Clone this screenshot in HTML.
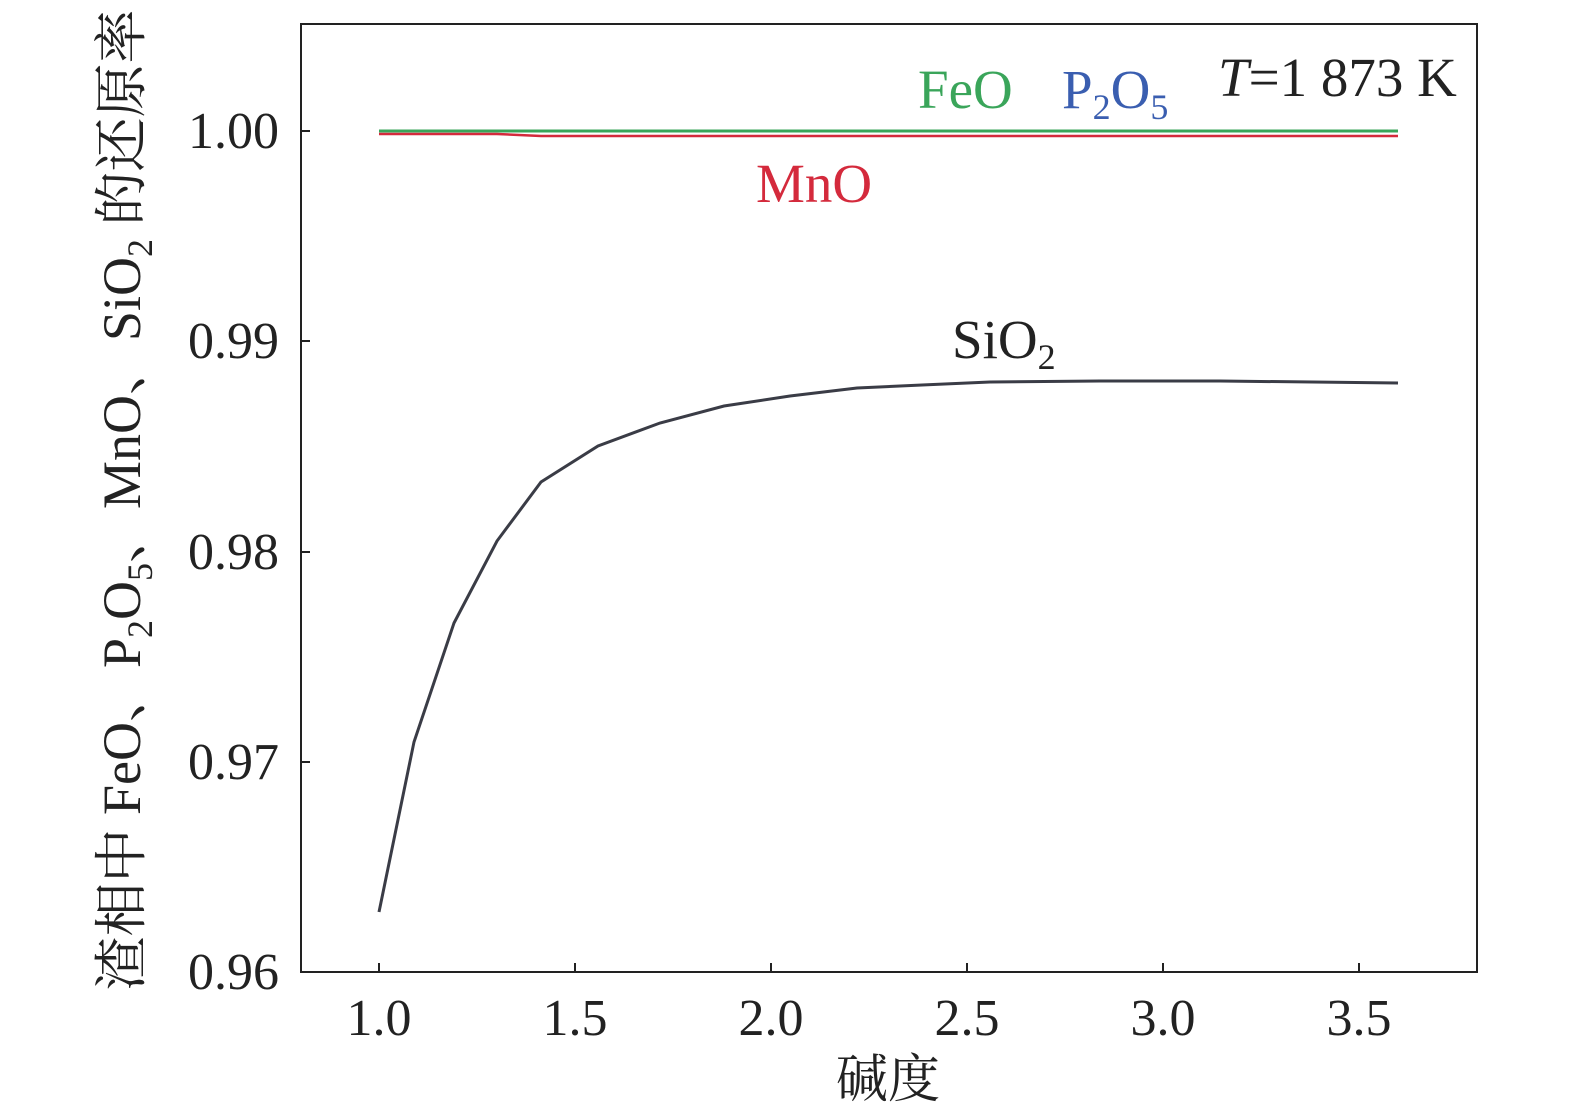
<!DOCTYPE html>
<html><head><meta charset="utf-8"><style>
html,body{margin:0;padding:0;background:#fff;}
svg{display:block;}
text{font-family:"Liberation Serif","Noto Serif CJK SC",serif;}
</style></head><body>
<svg width="1575" height="1117" viewBox="0 0 1575 1117" xmlns="http://www.w3.org/2000/svg">
<rect x="301" y="24" width="1176" height="948" fill="none" stroke="#222" stroke-width="2"/>
<g stroke="#222" stroke-width="2">
<line x1="301" y1="131" x2="310" y2="131"/>
<line x1="301" y1="341" x2="310" y2="341"/>
<line x1="301" y1="552" x2="310" y2="552"/>
<line x1="301" y1="762" x2="310" y2="762"/>
<line x1="379" y1="972" x2="379" y2="963"/>
<line x1="575" y1="972" x2="575" y2="963"/>
<line x1="771" y1="972" x2="771" y2="963"/>
<line x1="967" y1="972" x2="967" y2="963"/>
<line x1="1163" y1="972" x2="1163" y2="963"/>
<line x1="1359" y1="972" x2="1359" y2="963"/>
</g>
<g font-size="52" fill="#222" text-anchor="end">
<text x="279" y="148">1.00</text>
<text x="279" y="358">0.99</text>
<text x="279" y="569">0.98</text>
<text x="279" y="779">0.97</text>
<text x="279" y="989">0.96</text>
</g>
<g font-size="52" fill="#222" text-anchor="middle">
<text x="379" y="1035">1.0</text>
<text x="575" y="1035">1.5</text>
<text x="771" y="1035">2.0</text>
<text x="967" y="1035">2.5</text>
<text x="1163" y="1035">3.0</text>
<text x="1359" y="1035">3.5</text>
<text x="888" y="1097">碱度</text>
</g>
<text transform="translate(140,500) rotate(-90)" font-size="54" fill="#222" text-anchor="middle">渣相中 FeO、P<tspan font-size="36" dy="12">2</tspan><tspan dy="-12">O</tspan><tspan font-size="36" dy="12">5</tspan><tspan dy="-12">、MnO、SiO</tspan><tspan font-size="36" dy="12">2</tspan><tspan dy="-12"> 的还原率</tspan></text>
<polyline fill="none" stroke="#3a3c46" stroke-width="3" points="379,912 414,742 454,623 497,541 541,482 598,446 660,423 724,406 790,396 857,388 922,385 990,382 1100,381 1220,381 1398,383"/>
<polyline fill="none" stroke="#d42a3c" stroke-width="2.5" points="379,134 497,134 541,136 1398,136"/>
<line x1="379" y1="131" x2="1398" y2="131" stroke="#3aa55a" stroke-width="3"/>
<text x="918" y="108" font-size="55" fill="#3aa55a">FeO</text>
<text x="1062" y="108" font-size="55" fill="#3a5eb0">P<tspan font-size="36" dy="11">2</tspan><tspan dy="-11">O</tspan><tspan font-size="36" dy="11">5</tspan></text>
<text x="1218" y="96" font-size="55" fill="#222"><tspan font-style="italic">T</tspan>=1 873 K</text>
<text x="756" y="202" font-size="55" fill="#d42a3c">MnO</text>
<text x="952" y="358" font-size="55" fill="#222">SiO<tspan font-size="36" dy="11">2</tspan></text>
</svg>
</body></html>
